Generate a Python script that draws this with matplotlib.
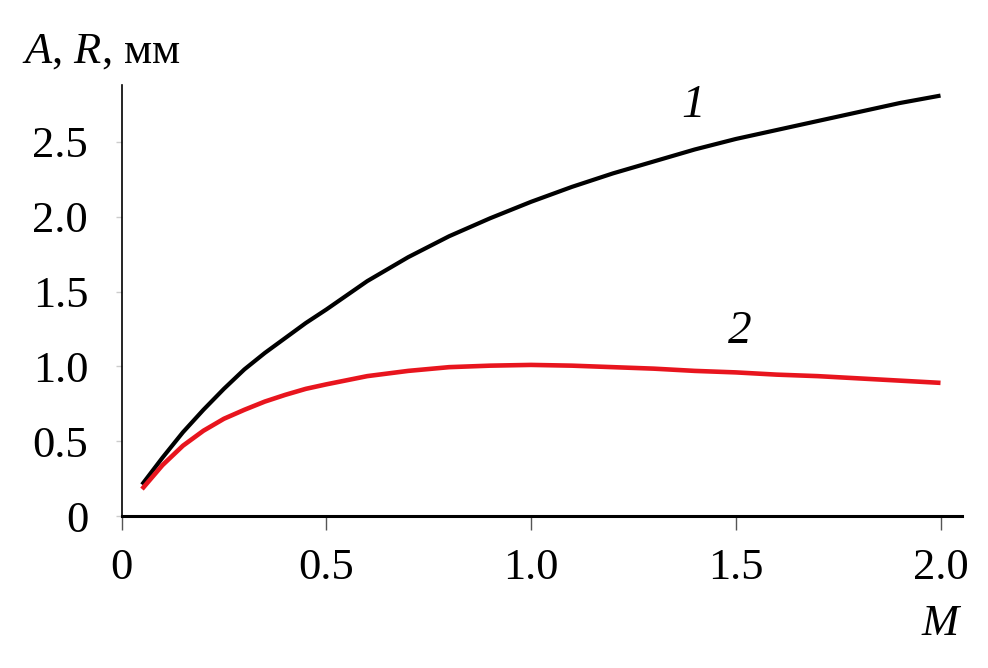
import matplotlib
matplotlib.use("Agg")
import matplotlib.pyplot as plt

plt.rcParams['font.family'] = ['Liberation Serif', 'DejaVu Serif']
plt.rcParams['mathtext.fontset'] = 'custom'
plt.rcParams['mathtext.rm'] = 'Liberation Serif'
plt.rcParams['mathtext.it'] = 'Liberation Serif:italic'

# числа Маха
M = [0.05, 0.1, 0.15, 0.2, 0.25, 0.3, 0.35, 0.4, 0.45, 0.5, 0.6, 0.7, 0.8, 0.9, 1.0,
     1.1, 1.2, 1.3, 1.4, 1.5, 1.6, 1.7, 1.8, 1.9, 2.0]
# кривая 1 (A)
A = [0.21, 0.39, 0.56, 0.71, 0.85, 0.98, 1.09, 1.19, 1.29, 1.38, 1.57, 1.73, 1.87, 1.99, 2.10,
     2.20, 2.29, 2.37, 2.45, 2.52, 2.58, 2.64, 2.70, 2.76, 2.81]
# кривая 2 (R)
R = [0.18, 0.34, 0.47, 0.57, 0.65, 0.71, 0.765, 0.81, 0.85, 0.88, 0.935, 0.97, 0.995, 1.005, 1.01,
     1.005, 0.995, 0.985, 0.97, 0.96, 0.945, 0.935, 0.92, 0.905, 0.89]

xticks = [0, 0.5, 1.0, 1.5, 2.0]
xlabels = ["0", "0.5", "1.0", "1.5", "2.0"]
yticks = [0, 0.5, 1.0, 1.5, 2.0, 2.5]
ylabels = ["0", "0.5", "1.0", "1.5", "2.0", "2.5"]

fig = plt.figure(figsize=(9.88, 6.68), dpi=100)
ax = fig.add_axes([0.123, 0.2275, 0.8507, 0.6453])

ax.plot(M, A, color="black", lw=3, solid_capstyle="butt", solid_joinstyle="round")
ax.plot(M, R, color="#e8151e", lw=3.3, solid_capstyle="butt", solid_joinstyle="round")

ax.set_xlim(0, 2.0525)
ax.set_ylim(0, 2.881)

ax.spines["top"].set_visible(False)
ax.spines["right"].set_visible(False)
ax.spines["bottom"].set_linewidth(2.2)
ax.spines["left"].set_linewidth(1.2)

ax.set_xticks(xticks)
ax.set_xticklabels(xlabels)
ax.set_yticks(yticks)
ax.set_yticklabels(ylabels)
ax.tick_params(axis="x", direction="out", length=10, width=1, color="#555555",
               labelsize=32, pad=13)
ax.tick_params(axis="y", direction="out", length=4, width=1, color="#cccccc",
               labelsize=32, pad=20)

ax.text(1.395, 2.74, "1", fontsize=34, style="italic", ha="center", va="center")
ax.text(1.51, 1.23, "2", fontsize=34, style="italic", ha="center", va="center")

fig.text(0.0223, 0.907, r"$A$, $R$, мм", fontsize=32, ha="left", va="baseline")
fig.text(0.9535, 0.0494, r"$M$", fontsize=32, ha="center", va="baseline")

fig.savefig("out.png", dpi=100)
